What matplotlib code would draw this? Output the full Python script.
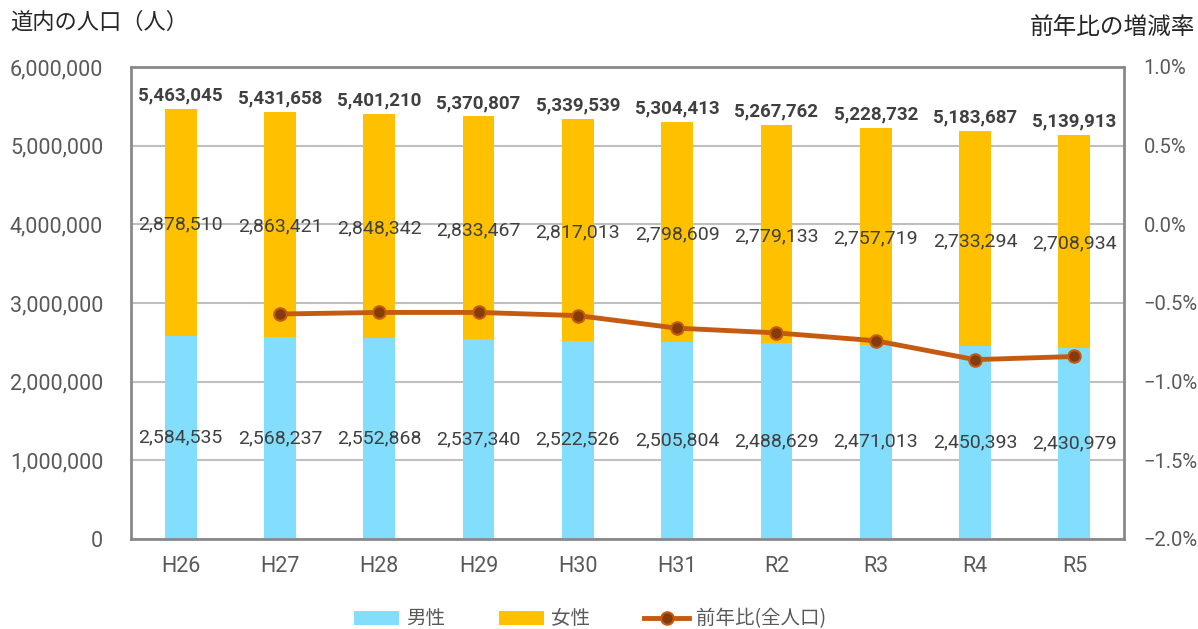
import matplotlib
matplotlib.use("Agg")
import matplotlib.pyplot as plt
from matplotlib.ticker import FuncFormatter, MultipleLocator

plt.rcParams['font.family'] = ['Roboto', 'Noto Sans CJK JP', 'DejaVu Sans']

# 年度
years = ['H26', 'H27', 'H28', 'H29', 'H30', 'H31', 'R2', 'R3', 'R4', 'R5']
# 男性・女性・合計
male = [2584535, 2568237, 2552868, 2537340, 2522526, 2505804, 2488629, 2471013, 2450393, 2430979]
female = [2878510, 2863421, 2848342, 2833467, 2817013, 2798609, 2779133, 2757719, 2733294, 2708934]
total = [5463045, 5431658, 5401210, 5370807, 5339539, 5304413, 5267762, 5228732, 5183687, 5139913]
# 前年比(%)  H26 はなし
rate = [None, -0.57, -0.56, -0.56, -0.58, -0.66, -0.69, -0.74, -0.86, -0.84]

c_male = '#83DDFD'
c_female = '#FFC000'
c_line = '#C55A11'
c_mark = '#843C0C'
c_tick = '#595959'
c_lab = '#404040'
jp = ['Noto Sans CJK JP', 'DejaVu Sans']

fig = plt.figure(figsize=(11.98, 6.29), dpi=100)
ax = fig.add_axes([131 / 1198, 1 - 539 / 629, (1124 - 131) / 1198, (539 - 67) / 629])
x = list(range(len(years)))
w = 0.32

b1 = ax.bar(x, male, w, color=c_male, label='男性', zorder=2)
b2 = ax.bar(x, female, w, bottom=male, color=c_female, label='女性', zorder=2)

for i in x:
    ax.text(i, male[i] / 2, f'{male[i]:,}', ha='center', va='center', fontsize=14, color=c_lab, zorder=4)
    ax.text(i, male[i] + female[i] / 2 - 30000, f'{female[i]:,}', ha='center', va='center', fontsize=14, color=c_lab, zorder=4)
    ax.text(i, total[i] + 170000, f'{total[i]:,}', ha='center', va='center', fontsize=13.5, color=c_lab, fontweight='bold', zorder=4)

ax.set_xlim(-0.5, len(years) - 0.5)
ax.set_ylim(0, 6000000)
ax.yaxis.set_major_locator(MultipleLocator(1000000))
ax.yaxis.set_major_formatter(FuncFormatter(lambda v, p: f'{int(v):,}'))
ax.grid(axis='y', color='#BFBFBF', linewidth=1.5, zorder=0)
ax.set_xticks(x)
ax.set_xticklabels(years)
ax.tick_params(axis='both', length=0, labelsize=15.5, labelcolor=c_tick)
ax.tick_params(axis='x', pad=12)
ax.tick_params(axis='y', pad=20)
for s in ax.spines.values():
    s.set_color('#898989')
    s.set_linewidth(2)

ax2 = ax.twinx()
xr = [i for i in x if rate[i] is not None]
yr = [rate[i] for i in xr]
ln, = ax2.plot(xr, yr, color=c_line, linewidth=3.5, marker='o', markersize=9,
               markerfacecolor=c_mark, markeredgecolor=c_line, markeredgewidth=1.5,
               label='前年比(全人口)', zorder=3)
ax2.set_ylim(-2.0, 1.0)
ax2.yaxis.set_major_locator(MultipleLocator(0.5))
ax2.yaxis.set_major_formatter(FuncFormatter(lambda v, p: f'{v:.1f}%'.replace('-', '\u2212')))
ax2.tick_params(axis='y', length=0, labelsize=14.5, labelcolor=c_tick, pad=14)
for s in ax2.spines.values():
    s.set_visible(False)
ax.set_zorder(1)
ax2.set_zorder(2)
ax2.patch.set_visible(False)

fig.text(10 / 1198, 1 - 22 / 629, '道内の人口（人）', fontsize=16, color='#262626', va='center', family=jp)
fig.text(1195 / 1198, 1 - 28 / 629, '前年比の増減率', fontsize=17, color='#262626', va='center', ha='right', family=jp)

leg = fig.legend(handles=[b1, b2, ln], loc='center', bbox_to_anchor=(590 / 1198, 1 - 619 / 629), ncol=3,
                 frameon=False, handlelength=2.3, columnspacing=2.8, handletextpad=0.35,
                 prop={'family': jp, 'size': 14})
for t in leg.get_texts():
    t.set_color(c_tick)

fig.savefig('out.png', dpi=100)
